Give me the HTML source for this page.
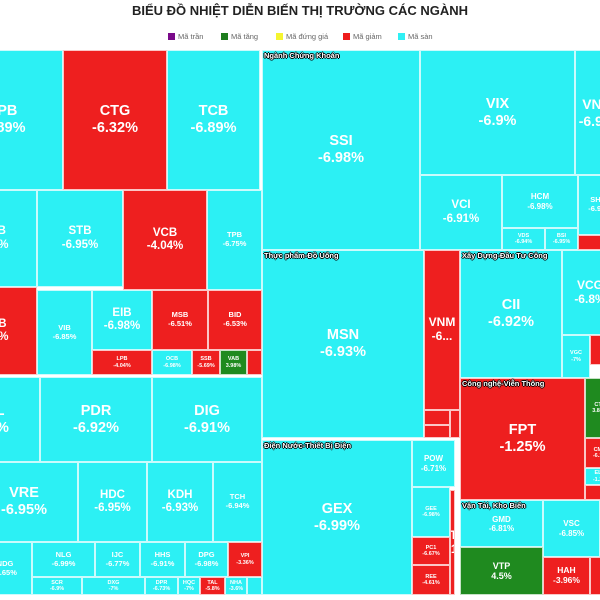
<!DOCTYPE html>
<html><head><meta charset="utf-8">
<style>
html,body{margin:0;padding:0;background:#fff;width:600px;height:600px;overflow:hidden;font-family:"Liberation Sans",sans-serif}
#title{position:absolute;top:3px;left:0;width:600px;text-align:center;font-weight:bold;font-size:13px;color:#222}
.leg{position:absolute;top:32px;font-size:7.5px;color:#666;white-space:nowrap}
.leg i{display:inline-block;width:7px;height:7px;margin-right:3px;vertical-align:-1px}
#map{position:absolute;left:0;top:50px;width:600px;height:550px;overflow:hidden}
.cell{position:absolute;box-sizing:border-box;border:1px solid rgba(255,255,255,0.75);color:#fff;font-weight:bold;display:flex;flex-direction:column;align-items:center;justify-content:center;text-align:center;overflow:hidden;line-height:1.15}
.grp{position:absolute;font-size:7.5px;font-weight:bold;color:#fff;text-shadow:-1px 0 #000,1px 0 #000,0 -1px #000,0 1px #000;white-space:nowrap;z-index:5}
</style></head><body>
<div id="title">BIỂU ĐỒ NHIỆT DIỄN BIẾN THỊ TRƯỜNG CÁC NGÀNH</div>
<div class="leg" style="left:168px"><i style="background:#7a0a8a"></i>Mã trần</div>
<div class="leg" style="left:221px"><i style="background:#1e7d1e"></i>Mã tăng</div>
<div class="leg" style="left:276px"><i style="background:#f5f530"></i>Mã đứng giá</div>
<div class="leg" style="left:343px"><i style="background:#ee1c1c"></i>Mã giảm</div>
<div class="leg" style="left:398px"><i style="background:#2ff0f4"></i>Mã sàn</div>
<div id="map"></div>
<script>
// data
const tickers=["VPB","CTG","TCB","HDB","STB","VCB","TPB","MBB","VIB","EIB","MSB","BID","LPB","OCB","SSB","VAB","BAB",
"NVL","PDR","DIG","VRE","HDC","KDH","TCH","NDG","NLG","IJC","HHS","DPG","VPI","SCR","DXG","DPR","HQC","TAL","NHA","KHG",
"SSI","VIX","VND","VCI","HCM","VDS","BSI","SHS","ORS",
"MSN","VNM","SAB","SBT","KDC",
"CII","VCG","VGC","HHV",
"GEX","POW","GEE","PC1","REE","NT2",
"FPT","CTR","CMG","ELC","ELT",
"GMD","VTP","VSC","HAH","PVT"];
const pcts=[-6.89,-6.32,-6.89,-6.9,-6.95,-4.04,-6.75,-5.2,-6.85,-6.98,-6.51,-6.53,-4.04,-6.98,-5.69,3.98,-2.1,
-6.9,-6.92,-6.91,-6.95,-6.95,-6.93,-6.94,-6.65,-6.99,-6.77,-6.91,-6.98,-3.36,-6.9,-7,-6.73,-7,-5.8,-3.6,-6.9,
-6.98,-6.9,-6.9,-6.91,-6.98,-6.94,-6.95,-6.9,-3.1,
-6.93,-6.1,-2.76,-1.4,-2.2,
-6.92,-6.8,-7,-4.3,
-6.99,-6.71,-6.98,-6.67,-4.61,-2.1,
-1.25,3.88,-6.1,-1.2,-3.4,
-6.81,4.5,-6.85,-3.96,-2.5];
const status=["s","d","s","s","s","d","s","d","s","s","d","d","d","s","d","u","d",
"s","s","s","s","s","s","s","s","s","s","s","s","d","s","s","s","s","d","s","s",
"s","s","s","s","s","s","s","s","d",
"s","d","d","d","d",
"s","s","s","d",
"s","s","s","d","d","d",
"d","u","d","s","d",
"s","u","s","d","d"];
const groups=["Ngành Chứng Khoán","Thực phẩm-Đồ Uống","Xây Dựng-Đầu Tư Công","Công nghệ-Viễn Thông","Điện Nước-Thiết Bị Điện","Vận Tải, Kho Biển"];
// layout (x,y,w,h) of treemap tiles, chart-relative
const layout=[[-58,0,121,140],[63,0,104,140],[167,0,93,140],[-50,140,87,97],[37,140,86,97],[123,140,84,100],[207,140,55,100],[-50,237,87,88],[37,240,55,85],[92,240,60,60],[152,240,56,60],[208,240,54,60],[92,300,60,25],[152,300,40,25],[192,300,28,25],[220,300,27,25],[247,300,15,25],
[-60,327,100,85],[40,327,112,85],[152,327,110,85],[-30,412,108,80],[78,412,69,80],[147,412,66,80],[213,412,49,80],[-22,492,54,53],[32,492,63,35],[95,492,45,35],[140,492,45,35],[185,492,43,35],[228,492,34,35],[32,527,50,18],[82,527,63,18],[145,527,33,18],[178,527,22,18],[200,527,25,18],[225,527,22,18],[247,527,15,18],
[262,0,158,200],[420,0,155,125],[575,0,44,125],[420,125,82,75],[502,125,76,53],[502,178,43,22],[545,178,33,22],[578,125,40,60],[578,185,40,15],
[262,200,162,188],[424,200,36,160],[424,360,26,15],[424,375,26,13],[450,360,10,28],
[460,200,102,128],[562,200,56,85],[562,285,28,43],[590,285,20,30],
[262,390,150,155],[412,390,43,47],[412,437,38,50],[412,487,38,28],[412,515,38,30],[450,440,5,105],
[460,328,125,122],[585,328,30,60],[585,388,30,30],[585,418,30,17],[585,435,30,15],
[460,450,83,47],[460,497,83,48],[543,450,57,57],[543,507,47,38],[590,507,20,38]];
const fontOverride={VND:14,VCG:12,HCM:8,GMD:8,POW:8,VSC:8,HAH:8.5,VTP:9};
const groupStart=[37,46,51,61,55,66];
const colors={s:"#2cf0f4",d:"#ee1f1f",u:"#1f8a1f"};
const map=document.getElementById('map');
tickers.forEach((t,i)=>{
  const [x,y,w,h]=layout[i];
  const el=document.createElement('div');
  el.className='cell';
  
  
  el.style.cssText=`left:${x}px;top:${y}px;width:${w}px;height:${h}px;background:${colors[status[i]]}`;
  const m=Math.min(w,h*1.3);
  let fs = m>=90?14.5 : m>=60?11.5 : m>=40?7.5 : m>=22?5.5:0;
  if(w<=40&&h>100) fs=12;
  if(fontOverride[t]) fs=fontOverride[t];
  if(fs>0){
    let p=(Math.round(pcts[i]*100)/100)+'%';
    if(t==='VNM') p='-6...';
    el.innerHTML=`<div style="font-size:${fs}px">${t}</div><div style="font-size:${fs}px">${p}</div>`;
  }
  if(t==='GMD'){el.style.justifyContent='flex-start';el.style.paddingTop='14px';}
  map.appendChild(el);
});
groups.forEach((g,k)=>{
  const [x,y]=layout[groupStart[k]];
  const el=document.createElement('div');
  el.className='grp';
  
  
  el.style.left=(x+2)+'px';el.style.top=(y+1)+'px';
  el.textContent=g;
  map.appendChild(el);
});
</script>
</body></html>
